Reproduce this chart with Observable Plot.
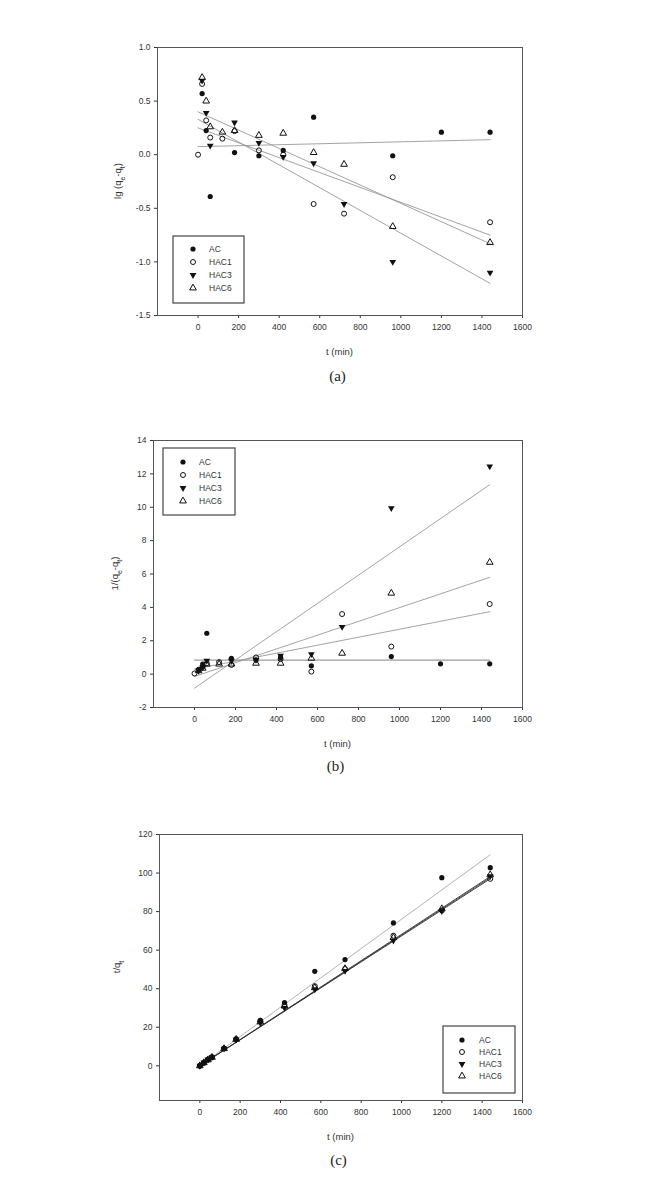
<!DOCTYPE html>
<html><head><meta charset="utf-8">
<script src="https://cdn.jsdelivr.net/npm/d3@7"></script>
<script src="https://cdn.jsdelivr.net/npm/@observablehq/plot@0.6"></script>
<style>
body{margin:0;background:#fff;}
#wrap{position:relative;width:657px;height:1191px;overflow:hidden;}
#wrap svg{position:absolute;left:0;}
</style></head><body><div id="wrap"></div>
<script>
// ---------- data ----------
const times = [0, 20, 40, 60, 120, 180, 300, 420, 570, 720, 960, 1200, 1440];
const seriesNames = ["AC", "HAC1", "HAC3", "HAC6"];
const xTicks = [0, 200, 400, 600, 800, 1000, 1200, 1400, 1600];
const fitT = [0, 1440];

// (a) lg(qe - qt)
const a_AC   = [null, 0.57, 0.225, -0.39, null, 0.02, -0.01, 0.04, 0.35, null, -0.01, 0.21, 0.21];
const a_HAC1 = [0.0, 0.66, 0.32, 0.16, 0.15, 0.22, 0.04, 0.0, -0.46, -0.55, -0.21, null, -0.63];
const a_HAC3 = [null, 0.69, 0.39, 0.085, null, 0.30, 0.11, -0.02, -0.08, -0.46, -1.0, null, -1.1];
const a_HAC6 = [null, 0.72, 0.50, 0.26, 0.21, 0.225, 0.18, 0.20, 0.02, -0.09, -0.67, null, -0.82];
const a_fitStart = [0.075, 0.25, 0.33, 0.40];
const a_fitEnd   = [0.14, -0.75, -1.2, -0.83];
const a_yTicks = [-1.5, -1.0, -0.5, 0.0, 0.5, 1.0];

// (b) 1/(qe - qt)
const b_AC   = [null, 0.27, 0.6, 2.45, null, 0.95, 0.85, 1.0, 0.5, null, 1.05, 0.62, 0.62];
const b_HAC1 = [0.04, 0.25, 0.45, 0.65, 0.72, 0.55, 1.0, 0.9, 0.15, 3.6, 1.65, null, 4.2];
const b_HAC3 = [null, 0.2, 0.4, 0.8, null, 0.8, 0.85, 1.1, 1.2, 2.83, 9.95, null, 12.45];
const b_HAC6 = [null, 0.2, 0.35, 0.6, 0.6, 0.6, 0.65, 0.65, 0.95, 1.25, 4.85, null, 6.7];
const b_fitStart = [0.84, 0.3, -0.84, -0.14];
const b_fitEnd   = [0.84, 3.74, 11.35, 5.8];
const b_yTicks = [-2, 0, 2, 4, 6, 8, 10, 12, 14];

// (c) t/qt
const c_AC   = [0, 1.5, 3.0, 4.6, 9.0, 13.8, 23.6, 32.8, 49.0, 55.1, 74.1, 97.6, 102.8];
const c_HAC1 = [0, 1.6, 3.2, 4.4, 9.0, 13.8, 23.3, 31.6, 41.3, 50.2, 67.5, 80.6, 97.0];
const c_HAC3 = [0, 1.7, 3.3, 4.5, 8.9, 13.6, 22.3, 30.0, 39.7, 49.2, 65.0, 80.3, 98.4];
const c_HAC6 = [0, 1.6, 3.1, 4.4, 8.9, 13.7, 22.8, 31.0, 40.5, 50.4, 66.5, 81.5, 99.1];
const c_fitStart = [0, 0, 0, 0];
const c_fitEnd   = [109.5, 97.0, 97.6, 98.2];
const c_yTicks = [0, 20, 40, 60, 80, 100, 120];

// ---------- symbols ----------
function triangle(down) {
  return {draw(ctx, size) {
    const s = Math.sqrt(4 * size / Math.sqrt(3)), h = s * Math.sqrt(3) / 2;
    const k = down ? -1 : 1;
    ctx.moveTo(0, -k * 2 * h / 3);
    ctx.lineTo(s / 2, k * h / 3);
    ctx.lineTo(-s / 2, k * h / 3);
    ctx.closePath();
  }};
}
const symStyle = {
  AC:   {symbol: d3.symbolCircle, fill: "#111", stroke: "none", r: 2.6},
  HAC1: {symbol: d3.symbolCircle, fill: "none", stroke: "#111", r: 2.5},
  HAC3: {symbol: triangle(true), fill: "#111", stroke: "none", r: 2.5},
  HAC6: {symbol: triangle(false), fill: "none", stroke: "#111", r: 2.5}
};

const FONT = "'Liberation Sans', Arial, sans-serif";
const wrap = document.getElementById("wrap");

function panel(cfg) {
  const vals = cfg.values;
  const marks = [Plot.frame({stroke: "#555", strokeWidth: 1})];
  const fits = seriesNames.map((s, i) => fitT.map((t, k) => ({s, t, v: k === 0 ? cfg.fitStart[i] : cfg.fitEnd[i]})));
  fits.forEach((f, i) => marks.push(Plot.line(f, {x: "t", y: "v", stroke: cfg.lineColors[i], strokeWidth: 0.9})));
  seriesNames.forEach((s, i) => {
    const rows = [];
    times.forEach((t, j) => { if (vals[i][j] != null) rows.push({t, v: vals[i][j]}); });
    const st = symStyle[s];
    marks.push(Plot.dot(rows, {x: "t", y: "v", symbol: () => st.symbol, r: st.r, fill: st.fill, stroke: st.stroke, strokeWidth: 1}));
  });
  const fl = cfg.frameLeft, fr = 522;
  const plot = Plot.plot({
    width: 657, height: cfg.height,
    marginTop: cfg.marginTop, marginBottom: cfg.height - cfg.marginTop - cfg.inner,
    marginLeft: fl, marginRight: 657 - fr,
    style: {fontFamily: FONT, fontSize: "8.5px", color: "#333", background: "transparent", overflow: "visible"},
    x: {domain: [-200, 1600], ticks: xTicks, tickFormat: d => String(d), tickSize: 3, tickPadding: 5, label: null},
    y: {domain: cfg.yDomain, ticks: cfg.yTicks, tickFormat: cfg.fmt, tickSize: 3, tickPadding: 4, label: null},
    symbol: {type: "identity"},
    marks
  });
  plot.style.top = cfg.top + "px";
  wrap.appendChild(plot);
  const svg = d3.select(plot);
  const fb = cfg.marginTop + cfg.inner;
  const cx = (fl + fr) / 2;
  // x title
  svg.append("text").attr("x", cx).attr("y", fb + cfg.xTitleDy).attr("text-anchor", "middle")
    .attr("font-family", FONT).attr("font-size", "9.5px").attr("fill", "#333").text("t (min)");
  // caption
  svg.append("text").attr("x", cx - 2).attr("y", fb + cfg.captionDy).attr("text-anchor", "middle")
    .attr("font-family", "'Liberation Serif', 'DejaVu Serif', serif").attr("font-size", "15px").attr("fill", "#222").text(cfg.caption);
  // y title with subscripts
  const yt = svg.append("text").attr("transform", `translate(${cfg.yTitleX},${cfg.marginTop + cfg.inner / 2}) rotate(-90)`)
    .attr("text-anchor", "middle").attr("font-family", FONT).attr("font-size", "9.5px").attr("fill", "#333");
  cfg.yTitle.forEach(([txt, sub]) => {
    const ts = yt.append("tspan").text(txt);
    if (sub) ts.attr("baseline-shift", "sub").attr("font-size", "7px");
  });
  // legend
  const L = cfg.legend;
  const g = svg.append("g").attr("text-anchor", "start");
  g.append("rect").attr("x", L.x).attr("y", L.y).attr("width", L.w).attr("height", L.h)
    .attr("fill", "white").attr("stroke", "#444").attr("stroke-width", 1.2);
  seriesNames.forEach((s, i) => {
    const st = symStyle[s];
    const y = L.y + L.row0 + i * L.dy;
    g.append("path").attr("d", d3.symbol(st.symbol, st.r * st.r * Math.PI)())
      .attr("transform", `translate(${L.x + L.sx},${y})`)
      .attr("fill", st.fill).attr("stroke", st.stroke).attr("stroke-width", 1);
    g.append("text").attr("x", L.x + L.tx).attr("y", y + 3).attr("text-anchor", "start").attr("font-family", FONT)
      .attr("font-size", "8.5px").attr("fill", "#333").text(s);
  });
}

panel({
  top: 0, height: 400, marginTop: 47, inner: 268, frameLeft: 157,
  values: [a_AC, a_HAC1, a_HAC3, a_HAC6], fitStart: a_fitStart, fitEnd: a_fitEnd,
  lineColors: ["#999", "#999", "#999", "#999"],
  yDomain: [-1.5, 1.0], yTicks: a_yTicks, fmt: d => d.toFixed(1),
  yTitle: [["lg (q"], ["e", true], ["-q"], ["t", true], [")"]], yTitleX: 121,
  caption: "(a)", xTitleDy: 40, captionDy: 66,
  legend: {x: 173, y: 236, w: 71, h: 67, row0: 13, dy: 13, sx: 20, tx: 36}
});
panel({
  top: 400, height: 392, marginTop: 40, inner: 267, frameLeft: 153,
  values: [b_AC, b_HAC1, b_HAC3, b_HAC6], fitStart: b_fitStart, fitEnd: b_fitEnd,
  lineColors: ["#777", "#999", "#999", "#999"],
  yDomain: [-2, 14], yTicks: b_yTicks, fmt: d => String(d),
  yTitle: [["1/(q"], ["e", true], ["-q"], ["t", true], [")"]], yTitleX: 118,
  caption: "(b)", xTitleDy: 40, captionDy: 64,
  legend: {x: 163, y: 48, w: 72, h: 67, row0: 14, dy: 13, sx: 20, tx: 36}
});
panel({
  top: 792, height: 399, marginTop: 42, inner: 266, frameLeft: 159,
  values: [c_AC, c_HAC1, c_HAC3, c_HAC6], fitStart: c_fitStart, fitEnd: c_fitEnd,
  lineColors: ["#aaa", "#333", "#333", "#333"],
  yDomain: [-18, 120], yTicks: c_yTicks, fmt: d => String(d),
  yTitle: [["t/q"], ["t", true]], yTitleX: 120,
  caption: "(c)", xTitleDy: 40, captionDy: 65,
  legend: {x: 443, y: 234, w: 72, h: 67, row0: 14, dy: 12, sx: 19, tx: 36}
});
</script></body></html>
